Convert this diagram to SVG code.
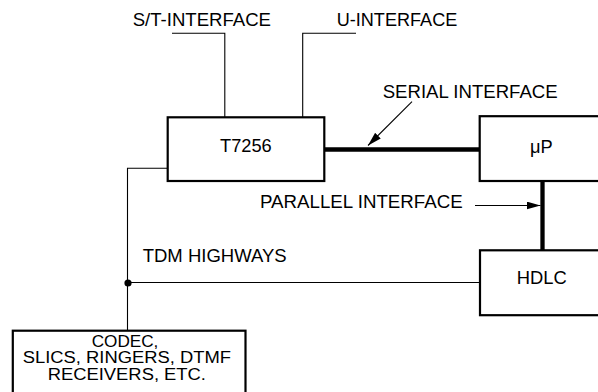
<svg xmlns="http://www.w3.org/2000/svg" width="598" height="392" viewBox="0 0 598 392">
<style>
text{font-family:"Liberation Sans",Arial,Helvetica,sans-serif;font-size:17.5px;fill:#000}
.sm{font-size:16.3px}
.box{fill:#fff;stroke:#000;stroke-width:2.2}
.thin{fill:none;stroke:#000;stroke-width:1.1}
.thick{fill:none;stroke:#000;stroke-width:4.3}
</style>
<defs>
<marker id="ah" viewBox="0 0 14 8" refX="14" refY="4" markerWidth="14" markerHeight="8" markerUnits="userSpaceOnUse" orient="auto">
<path d="M0,0 L14,4 L0,8 Z" fill="#000"/>
</marker>
</defs>
<rect width="598" height="392" fill="#fff"/>
<g id="connectors">
<polyline class="thin" points="172,33.3 224.8,33.3 224.8,117"/>
<polyline class="thin" points="356,33.3 302.7,33.3 302.7,117"/>
<line class="thick" x1="324.5" y1="149.5" x2="479.5" y2="149.5"/>
<line class="thick" x1="542.5" y1="181" x2="542.5" y2="250.5"/>
<polyline class="thin" points="167.5,168.2 127.5,168.2 127.5,330.5"/>
<line class="thin" x1="127.5" y1="282.5" x2="480" y2="282.5"/>
<circle cx="128" cy="283" r="3.6" fill="#000"/>
<line class="thin" x1="412" y1="101.7" x2="368" y2="145.5" marker-end="url(#ah)"/>
<line class="thin" x1="475" y1="205.5" x2="540.5" y2="205.5" marker-end="url(#ah)"/>
</g>
<g id="labels">
<text x="132.7" y="26" textLength="138.3" lengthAdjust="spacingAndGlyphs">S/T-INTERFACE</text>
<text x="336.7" y="25.7" textLength="120.6" lengthAdjust="spacingAndGlyphs">U-INTERFACE</text>
<text x="382.7" y="97.7" textLength="175" lengthAdjust="spacingAndGlyphs">SERIAL INTERFACE</text>
<text x="260" y="208.3" textLength="202.7" lengthAdjust="spacingAndGlyphs">PARALLEL INTERFACE</text>
<text x="142.7" y="261.7" textLength="144" lengthAdjust="spacingAndGlyphs">TDM HIGHWAYS</text>
</g>
<g id="t7256">
<rect class="box" x="167.7" y="117.3" width="156.6" height="63.7"/>
<text x="220" y="152.3" textLength="51.7" lengthAdjust="spacingAndGlyphs">T7256</text>
</g>
<g id="up">
<rect class="box" x="479.7" y="116.2" width="130" height="64.8"/>
<text x="530" y="153.3" textLength="22.7" lengthAdjust="spacingAndGlyphs">μP</text>
</g>
<g id="hdlc">
<rect class="box" x="480" y="250.3" width="130" height="64.9"/>
<text x="516.7" y="284.3" textLength="50" lengthAdjust="spacingAndGlyphs">HDLC</text>
</g>
<g id="codec">
<rect class="box" x="12.8" y="330.7" width="232.7" height="70"/>
<text class="sm" x="91.7" y="346.7" textLength="66.7" lengthAdjust="spacingAndGlyphs">CODEC,</text>
<text class="sm" x="22.7" y="363.3" textLength="208.3" lengthAdjust="spacingAndGlyphs">SLICS, RINGERS, DTMF</text>
<text class="sm" x="47.7" y="380" textLength="158.3" lengthAdjust="spacingAndGlyphs">RECEIVERS, ETC.</text>
</g>
</svg>
